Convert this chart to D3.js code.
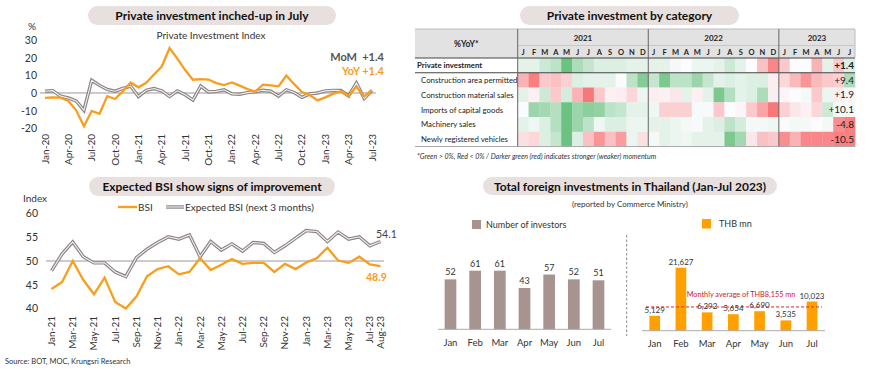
<!DOCTYPE html>
<html>
<head>
<meta charset="utf-8">
<script src="https://cdn.jsdelivr.net/npm/d3@7"></script>
<style>
body { margin: 0; background: #fff; }
svg { font-family: Lato, "Open Sans", sans-serif; }
</style>
</head>
<body>
<svg id="chart" width="870" height="372"></svg>
<script>
// ---------- data ----------
// private investment index, Jan-20 .. Jul-23 (%)
var piStart = new Date(2020, 0, 1);
var piYoY = [-2.8, -2.5, -2.6, -4.5, -9.8, -18.8, -10.2, -11.8, -1.8, -3.4, 1.0, 5.9,
             3.2, 5.8, 10.5, 15.0, 25.5, 19.5, 13.0, 7.5, 7.9, 7.6, 5.6, 4.5,
             6.0, 4.2, 2.2, 0.8, 4.7, 4.3, 3.8, 9.9, 5.0, 0.5, -1.2, -4.2,
             -2.5, -0.5, 1.0, -1.7, 3.6, -2.0, 1.4];
var piMoM = [1.0, 1.3, -1.8, -2.8, -4.5, -9.8, 7.2, 4.3, 2.0, 1.0, 2.6, 3.9,
             -2.0, 1.5, 2.5, 1.2, -2.0, 1.2, -1.0, -4.0, 3.9, 0.6, 0.9, 1.8,
             -0.5, -0.7, 0.2, 0.7, 1.5, 1.0, -1.8, 1.8, 0.3, -2.5, -0.5, 0.0,
             1.2, 1.5, 1.4, -1.7, 5.7, -3.1, 1.4];
var piTicks = [-20, -10, 0, 10, 20, 30];

// business sentiment index, Jan-21 .. Aug-23
var bsiStart = new Date(2021, 0, 1);
var bsi = [44.1, 45.6, 50.0, 46.0, 43.0, 46.5, 41.4, 40.0, 42.5, 46.8, 48.3, 48.9,
           47.2, 47.7, 50.6, 48.1, 49.2, 50.4, 49.4, 49.6, 49.6, 47.7, 49.4, 48.3,
           49.7, 50.6, 52.8, 50.1, 49.6, 50.9, 49.3, 48.9];
var bsiExpected = [47.9, 51.5, 54.0, 50.9, 49.6, 49.6, 47.7, 46.7, 50.7, 52.5, 53.9, 55.1,
                   54.6, 55.5, 50.9, 54.1, 52.3, 53.6, 52.1, 53.9, 53.7, 51.8, 53.2, 54.8,
                   56.4, 56.2, 54.1, 56.1, 54.6, 55.1, 53.2, 54.1];
var bsiTicks = [40, 45, 50, 55, 60];

// heat map (colour intensity, -1 red .. +1 green), Jan-21 .. Jul-23
var heatYears = ["2021", "2022", "2023"];
var heatYearMonths = [12, 12, 7];
var heatMonthLetters = ["J", "F", "M", "A", "M", "J", "J", "A", "S", "O", "N", "D"];
var heatRows = ["Private investment", "Construction area permitted", "Construction material sales",
                "Imports of capital goods", "Machinery sales", "Newly registered vehicles"];
var heatLatest = ["+1.4", "+9.4", "+1.9", "+10.1", "-4.8", "-10.5"];
var heatPrivate   = [0.15, 0.15, 0.3, 0.4, 0.9, 0.5, 0.35, 0.2, 0.2, 0.2, 0.15, 0.15,
                     0.15, 0.15, 0.05, 0.0, 0.1, 0.1, 0.15, 0.3, 0.15, 0.0, -0.4, -0.8,
                     -0.35, 0.0, 0.0, -0.5, 0.15, -0.35, 0.2];
var heatConstrArea = [-0.5, -0.85, -0.35, -0.4, -0.3, 0.2, 0.15, 0.15, 0.15, 0.02, 0.4, 0.75,
                      0.35, 0.8, 0.4, 0.4, 0.6, 0.35, 0.15, 0.2, 0.15, 0.2, 0.2, -0.1,
                      -0.25, -0.45, -0.7, -0.45, -0.35, -0.3, 0.5];
var heatConstrMat = [0.15, -0.08, 0.3, -0.35, 0.25, -0.5, -0.9, -0.35, -0.08, -0.1, -0.25, 0.1,
                     -0.1, -0.08, -0.15, 0.15, -0.08, 0.15, 0.8, 0.45, 0.15, 0.2, 0.5, -0.1,
                     -0.05, 0.0, 0.05, -0.35, 0.1, -0.1, -0.05];
var heatImports   = [0.02, 0.6, 0.55, 0.45, 0.9, 0.6, 0.7, 0.65, 0.4, 0.35, 0.15, 0.15,
                     0.08, -0.3, -0.3, -0.3, 0.03, 0.03, -0.35, 0.0, -0.05, -0.35, -0.6, -0.9,
                     -0.3, -0.15, -0.08, -0.25, 0.3, 0.05, 0.05];
var heatMachinery = [0.15, 0.08, 0.2, 0.45, 0.9, 0.6, 0.4, 0.08, 0.2, 0.2, 0.1, 0.1,
                     0.15, 0.15, 0.1, 0.05, 0.03, 0.15, 0.2, 0.4, 0.25, 0.05, 0.05, 0.08,
                     0.02, 0.05, 0.05, 0.0, 0.05, -0.75, -0.85];
var heatVehicles  = [-0.2, -0.25, 0.2, 0.35, 0.9, 0.2, -0.4, -0.7, -0.4, -0.65, 0.1, -0.2,
                     0.05, 0.15, 0.1, 0.08, 0.15, 0.15, 0.15, 0.8, 0.55, -0.15, -0.4, -0.35,
                     -0.75, -0.5, -0.8, -0.8, -0.8, -0.85, -0.85];

// foreign investment Jan-Jul 2023
var fdiMonths = ["Jan", "Feb", "Mar", "Apr", "May", "Jun", "Jul"];
var fdiInvestors = [52, 61, 61, 43, 57, 52, 51];
var fdiThb = [5129, 21627, 6292, 5654, 6690, 3535, 10023];
var fdiThbAvg = 8155;

// ---------- drawing ----------
var svg = d3.select("#chart");
var ORANGE = "#f99d1c";
var GREY = "#8b8384";
var TXT = "#333";

svg.append("rect").attr("width", 870).attr("height", 372).attr("fill", "#fff");

function pill(x, y, w, h, label) {
    svg.append("rect").attr("x", x).attr("y", y).attr("width", w).attr("height", h)
        .attr("rx", h / 2).attr("fill", "#e8e0df");
    svg.append("text").attr("x", x + w / 2).attr("y", y + h / 2 + 4.5)
        .attr("text-anchor", "middle").attr("font-weight", "bold").attr("font-size", 12)
        .attr("fill", "#111").text(label);
}

// double line: grey outer, light inner
function doubleLine(g, path) {
    g.append("path").attr("d", path).attr("fill", "none").attr("stroke", GREY).attr("stroke-width", 3.4);
    g.append("path").attr("d", path).attr("fill", "none").attr("stroke", "#f4f2f2").attr("stroke-width", 1.1);
}

function yAxisLabels(g, scale, ticks, xr) {
    g.append("g").attr("transform", "translate(" + xr + ",0)")
        .call(d3.axisLeft(scale).tickValues(ticks).tickSize(0).tickPadding(0).tickFormat(function(d) { return String(d); }))
        .call(function(a) { a.select(".domain").remove(); })
        .selectAll("text").attr("font-size", 10.5).attr("fill", TXT).attr("font-family", "Lato");
}

var fmtMonth = d3.timeFormat("%b-%y");

// ===== panel 1: private investment index =====
pill(88, 6, 248, 19, "Private investment inched-up in July");
var p1 = svg.append("g");
var x1 = d3.scaleLinear().domain([0, piYoY.length - 1]).range([45, 372]);
var y1 = d3.scaleLinear().domain([-20, 30]).range([128.3, 40]);

p1.append("text").attr("x", 211).attr("y", 39).attr("text-anchor", "middle")
    .attr("font-size", 10).attr("fill", TXT).text("Private Investment Index");
p1.append("text").attr("x", 28).attr("y", 30).attr("font-size", 10).attr("fill", TXT).text("%");
yAxisLabels(p1, y1, piTicks, 37);

p1.append("line").attr("x1", 40).attr("x2", 376).attr("y1", y1(0)).attr("y2", y1(0))
    .attr("stroke", "#999").attr("stroke-width", 1);

var line1 = d3.line().x(function(d, i) { return x1(i); }).y(function(d) { return y1(d); });
doubleLine(p1, line1(piMoM));
p1.append("path").attr("d", line1(piYoY)).attr("fill", "none").attr("stroke", ORANGE).attr("stroke-width", 2.3);

d3.range(0, piYoY.length, 3).forEach(function(i) {
    var dt = d3.timeMonth.offset(piStart, i);
    p1.append("text").attr("transform", "translate(" + x1(i) + ",134) rotate(-90)")
        .attr("text-anchor", "end").attr("dy", "0.35em").attr("font-size", 10).attr("fill", TXT)
        .text(fmtMonth(dt));
});

p1.append("text").attr("x", 357).attr("y", 61).attr("text-anchor", "end")
    .attr("font-size", 11).attr("font-weight", "bold").attr("fill", "#555").text("MoM");
p1.append("text").attr("x", 384).attr("y", 61).attr("text-anchor", "end")
    .attr("font-size", 11).attr("font-weight", "bold").attr("fill", "#555")
    .text("+" + piMoM[piMoM.length - 1].toFixed(1));
p1.append("text").attr("x", 384).attr("y", 75).attr("text-anchor", "end")
    .attr("font-size", 11).attr("font-weight", "bold").attr("fill", ORANGE)
    .text("YoY +" + piYoY[piYoY.length - 1].toFixed(1));

// ===== panel 2: heat map =====
pill(520, 6, 219, 19, "Private investment by category");
var p2 = svg.append("g");
var tLeft = 415, tSplit = 517.7, tRight = 855;
var nCols = heatPrivate.length;
var xh = d3.scaleBand().domain(d3.range(nCols)).range([tSplit, tRight]);
var yh = d3.scaleBand().domain(d3.range(heatRows.length)).range([58, 146.5]);
var heatColor = d3.scaleLinear().domain([-1, 0, 1]).range(["#f8696b", "#fcfcff", "#5cbb73"]);
var heatValues = [heatPrivate, heatConstrArea, heatConstrMat, heatImports, heatMachinery, heatVehicles];

p2.append("rect").attr("x", tLeft).attr("y", 29).attr("width", tRight - tLeft).attr("height", 29)
    .attr("fill", "#e2e2e2");
p2.append("text").attr("x", (tLeft + tSplit) / 2).attr("y", 47).attr("text-anchor", "middle")
    .attr("font-size", 8.5).attr("font-weight", "bold").attr("fill", "#222").text("%YoY*");

var col0 = 0;
heatYears.forEach(function(yr, k) {
    var n = heatYearMonths[k];
    var xa = xh(col0), xb = xh(col0 + n - 1) + xh.bandwidth();
    p2.append("text").attr("x", (xa + xb) / 2).attr("y", 41).attr("text-anchor", "middle")
        .attr("font-size", 8).attr("font-weight", "bold").attr("fill", "#222").text(yr);
    for (var m = 0; m < n; m++) {
        p2.append("text").attr("x", xh(col0 + m) + xh.bandwidth() / 2).attr("y", 55)
            .attr("text-anchor", "middle").attr("font-size", 7.5).attr("font-weight", "bold")
            .attr("fill", "#222").text(heatMonthLetters[m]);
    }
    col0 += n;
});

heatValues.forEach(function(vals, r) {
    p2.selectAll(null).data(vals).enter().append("rect")
        .attr("x", function(d, i) { return xh(i); })
        .attr("y", yh(r))
        .attr("width", xh.bandwidth() + 0.3)
        .attr("height", yh.bandwidth() + 0.3)
        .attr("fill", function(d) { return heatColor(d); });
    p2.append("text").attr("x", r === 0 ? tLeft + 2 : tLeft + 6).attr("y", yh(r) + yh.bandwidth() / 2 + 3)
        .attr("font-size", 7.8).attr("font-weight", r === 0 ? "bold" : "normal").attr("fill", "#222")
        .text(heatRows[r]);
    p2.append("text").attr("x", tRight - 1).attr("y", yh(r) + yh.bandwidth() / 2 + 3.5)
        .attr("text-anchor", "end").attr("font-size", 10).attr("font-weight", r === 0 ? "bold" : "normal")
        .attr("fill", "#222").text(heatLatest[r]);
});

// table rules
p2.append("line").attr("x1", tLeft).attr("x2", tRight).attr("y1", 29).attr("y2", 29).attr("stroke", "#bbb");
p2.append("line").attr("x1", tSplit).attr("x2", tRight).attr("y1", 45.5).attr("y2", 45.5).attr("stroke", "#c8c8c8");
p2.append("line").attr("x1", tLeft).attr("x2", tRight).attr("y1", 58).attr("y2", 58).attr("stroke", "#444");
p2.append("line").attr("x1", tLeft).attr("x2", tRight).attr("y1", yh(1)).attr("y2", yh(1)).attr("stroke", "#444");
p2.append("line").attr("x1", tLeft).attr("x2", tRight).attr("y1", 146.5).attr("y2", 146.5).attr("stroke", "#aaa");
[0, 12, 24].forEach(function(c) {
    p2.append("line").attr("x1", xh(c)).attr("x2", xh(c)).attr("y1", 29).attr("y2", 146.5)
        .attr("stroke", "#666").attr("stroke-width", 1);
});
p2.append("line").attr("x1", tRight).attr("x2", tRight).attr("y1", 29).attr("y2", 58).attr("stroke", "#bbb");

p2.append("text").attr("x", 417).attr("y", 159).attr("font-size", 7).attr("font-style", "italic")
    .attr("fill", TXT).text("*Green > 0%, Red < 0% / Darker green (red) indicates stronger (weaker) momentum");

// ===== panel 3: BSI =====
pill(89, 177, 246, 19, "Expected BSI show signs of improvement");
var p3 = svg.append("g");
var x3 = d3.scaleLinear().domain([0, bsi.length - 1]).range([51.5, 380.5]);
var y3 = d3.scaleLinear().domain([40, 60]).range([308.5, 213.5]);

p3.append("text").attr("x", 23).attr("y", 202).attr("font-size", 10).attr("fill", TXT).text("Index");
yAxisLabels(p3, y3, bsiTicks, 38);
p3.append("line").attr("x1", 46).attr("x2", 384).attr("y1", y3(50)).attr("y2", y3(50))
    .attr("stroke", "#999").attr("stroke-width", 1);

var line3 = d3.line().x(function(d, i) { return x3(i); }).y(function(d) { return y3(d); });
doubleLine(p3, line3(bsiExpected));
p3.append("path").attr("d", line3(bsi)).attr("fill", "none").attr("stroke", ORANGE).attr("stroke-width", 2.3);

var bsiLabelIdx = d3.range(0, bsi.length, 2).concat([bsi.length - 1]);
bsiLabelIdx.forEach(function(i) {
    p3.append("text").attr("transform", "translate(" + x3(i) + ",316) rotate(-90)")
        .attr("text-anchor", "end").attr("dy", "0.35em").attr("font-size", 10).attr("fill", TXT)
        .text(fmtMonth(d3.timeMonth.offset(bsiStart, i)));
});

// legend
p3.append("line").attr("x1", 118).attr("x2", 137).attr("y1", 207).attr("y2", 207)
    .attr("stroke", ORANGE).attr("stroke-width", 2.3);
p3.append("text").attr("x", 138).attr("y", 210.5).attr("font-size", 10).attr("fill", TXT).text("BSI");
doubleLine(p3, "M166,207L184,207");
p3.append("text").attr("x", 185).attr("y", 210.5).attr("font-size", 10).attr("fill", TXT)
    .text("Expected BSI (next 3 months)");

p3.append("text").attr("x", 376).attr("y", 238).attr("font-size", 10.5).attr("fill", "#444")
    .text(bsiExpected[bsiExpected.length - 1].toFixed(1));
p3.append("text").attr("x", 366).attr("y", 281).attr("font-size", 10.5).attr("font-weight", "bold")
    .attr("fill", ORANGE).text(bsi[bsi.length - 1].toFixed(1));

svg.append("text").attr("x", 5).attr("y", 364).attr("font-size", 7.5).attr("fill", TXT)
    .text("Source: BOT, MOC, Krungsri Research");

// ===== panel 4: foreign investment =====
pill(483, 177, 294, 18, "Total foreign investments in Thailand (Jan-Jul 2023)");
var p4 = svg.append("g");
p4.append("text").attr("x", 630).attr("y", 207).attr("text-anchor", "middle")
    .attr("font-size", 8).attr("fill", TXT).text("(reported by Commerce Ministry)");

// left: number of investors
var x4a = d3.scalePoint().domain(fdiMonths).range([450.5, 598.5]);
var y4a = d3.scaleLinear().domain([0, 61]).range([329.3, 270.7]);
var bwA = 11.7;
p4.append("rect").attr("x", 472).attr("y", 220).attr("width", 9).attr("height", 9).attr("fill", "#a79490");
p4.append("text").attr("x", 486).attr("y", 227.5).attr("font-size", 9).attr("fill", TXT).text("Number of investors");
p4.selectAll(".barA").data(fdiInvestors).enter().append("rect")
    .attr("x", function(d, i) { return x4a(fdiMonths[i]) - bwA / 2; })
    .attr("y", function(d) { return y4a(d); })
    .attr("width", bwA)
    .attr("height", function(d) { return y4a(0) - y4a(d); })
    .attr("fill", "#a79490");
p4.selectAll(".labA").data(fdiInvestors).enter().append("text")
    .attr("x", function(d, i) { return x4a(fdiMonths[i]); })
    .attr("y", function(d) { return y4a(d) - 4; })
    .attr("text-anchor", "middle").attr("font-size", 9).attr("fill", TXT)
    .text(function(d) { return d; });
p4.append("line").attr("x1", 438).attr("x2", 611).attr("y1", y4a(0)).attr("y2", y4a(0)).attr("stroke", "#aaa");
fdiMonths.forEach(function(m) {
    p4.append("text").attr("x", x4a(m)).attr("y", 346).attr("text-anchor", "middle")
        .attr("font-size", 9.5).attr("fill", TXT).text(m);
});

p4.append("line").attr("x1", 626.7).attr("x2", 626.7).attr("y1", 235).attr("y2", 336)
    .attr("stroke", "#888").attr("stroke-dasharray", "2.5,2");

// right: THB mn
var x4b = d3.scalePoint().domain(fdiMonths).range([654.7, 812]);
var y4b = d3.scaleLinear().domain([0, 21627]).range([330.7, 267.7]);
var bwB = 10.7;
p4.append("rect").attr("x", 702).attr("y", 219).attr("width", 9).attr("height", 9.5).attr("fill", "#ffa000");
p4.append("text").attr("x", 719).attr("y", 227).attr("font-size", 9).attr("fill", TXT).text("THB mn");
p4.selectAll(".barB").data(fdiThb).enter().append("rect")
    .attr("x", function(d, i) { return x4b(fdiMonths[i]) - bwB / 2; })
    .attr("y", function(d) { return y4b(d); })
    .attr("width", bwB)
    .attr("height", function(d) { return y4b(0) - y4b(d); })
    .attr("fill", "#ffa000");
p4.append("line").attr("x1", 642).attr("x2", 825).attr("y1", y4b(0)).attr("y2", y4b(0)).attr("stroke", "#aaa");
p4.append("line").attr("x1", 646).attr("x2", 822).attr("y1", y4b(fdiThbAvg)).attr("y2", y4b(fdiThbAvg))
    .attr("stroke", "#e0262e").attr("stroke-width", 1).attr("stroke-dasharray", "3,2");
p4.append("text").attr("x", 741).attr("y", y4b(fdiThbAvg) - 10).attr("text-anchor", "middle")
    .attr("font-size", 7.3).attr("fill", "#d0202e")
    .text("Monthly average of THB" + d3.format(",")(fdiThbAvg) + " mn");
p4.selectAll(".labB").data(fdiThb).enter().append("text")
    .attr("x", function(d, i) { return x4b(fdiMonths[i]); })
    .attr("y", function(d) { return y4b(d) - 3; })
    .attr("text-anchor", "middle").attr("font-size", 8).attr("fill", TXT)
    .text(function(d) { return d3.format(",")(d); });
fdiMonths.forEach(function(m) {
    p4.append("text").attr("x", x4b(m)).attr("y", 347).attr("text-anchor", "middle")
        .attr("font-size", 9.5).attr("fill", TXT).text(m);
});
</script>
</body>
</html>
